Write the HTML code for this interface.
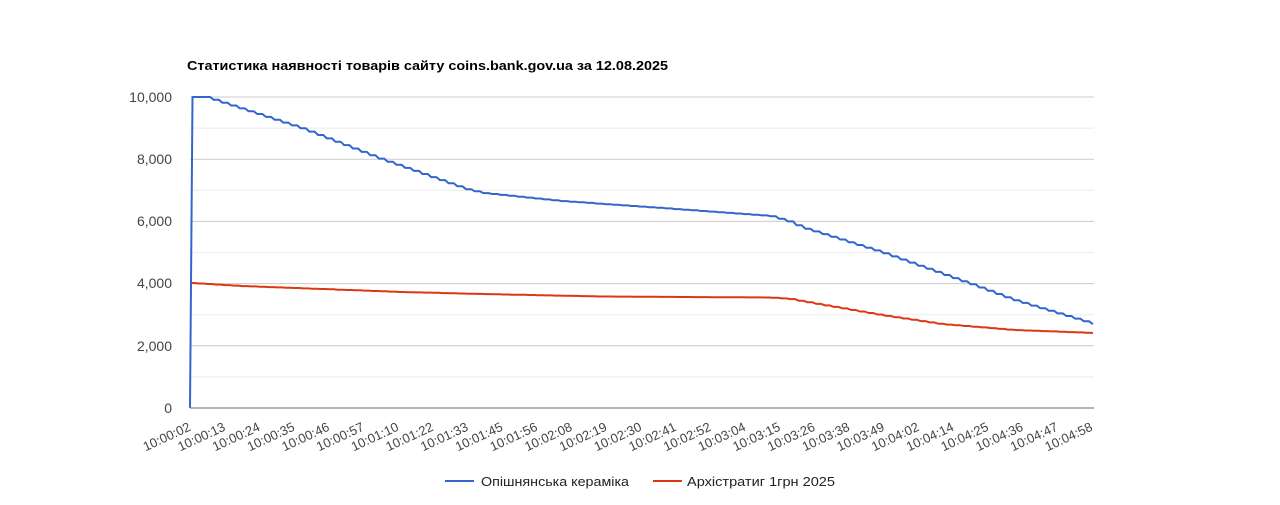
<!DOCTYPE html>
<html>
<head>
<meta charset="utf-8">
<style>
html,body{margin:0;padding:0;background:#fff;}
svg{display:block;}
text{font-family:"Liberation Sans",Arial,sans-serif;}
</style>
</head>
<body>
<svg width="1280" height="505" viewBox="0 0 1280 505" xmlns="http://www.w3.org/2000/svg">
<rect x="0" y="0" width="1280" height="505" fill="#ffffff"/>
<text x="187" y="70" font-size="13" font-weight="bold" fill="#000" textLength="481" lengthAdjust="spacingAndGlyphs">Статистика наявності товарів сайту coins.bank.gov.ua за 12.08.2025</text>

<!-- minor gridlines -->
<g stroke="#ebebeb" stroke-width="1">
<line x1="190" y1="128.1" x2="1094" y2="128.1"/>
<line x1="190" y1="190.3" x2="1094" y2="190.3"/>
<line x1="190" y1="252.5" x2="1094" y2="252.5"/>
<line x1="190" y1="314.7" x2="1094" y2="314.7"/>
<line x1="190" y1="376.9" x2="1094" y2="376.9"/>
</g>
<!-- major gridlines -->
<g stroke="#cccccc" stroke-width="1">
<line x1="190" y1="97" x2="1094" y2="97"/>
<line x1="190" y1="159.2" x2="1094" y2="159.2"/>
<line x1="190" y1="221.4" x2="1094" y2="221.4"/>
<line x1="190" y1="283.6" x2="1094" y2="283.6"/>
<line x1="190" y1="345.8" x2="1094" y2="345.8"/>
</g>

<!-- y labels -->
<g font-size="14" fill="#444" text-anchor="end">
<text x="172" y="102">10,000</text>
<text x="172" y="164">8,000</text>
<text x="172" y="226">6,000</text>
<text x="172" y="288">4,000</text>
<text x="172" y="351">2,000</text>
<text x="172" y="413">0</text>
</g>

<!-- series -->
<path id="red" d="M190,283 L240,286 L320,289 L400,292 L480,294 L600,296.5 L770,297.5 L790,299 L800,301 L880,315 L940,324 L1013,330 L1093,333" fill="none" stroke="#dc3912" stroke-width="2" stroke-linejoin="round"/>
<path id="blue" d="M190,408 L192.5,97 L205,97 L300,128 L380,159 L465,189 L482,193 L560,201 L660,208 L770,216 L790,222 L800,227 L880,252 L967,283 L1013,300 L1093,324" fill="none" stroke="#3366cc" stroke-width="2" stroke-linejoin="round"/>

<!-- axis baseline -->
<line x1="190" y1="408" x2="1094" y2="408" stroke="#888" stroke-width="1.2"/>

<!-- x labels -->
<g font-size="13" fill="#444" text-anchor="end">
<text transform="translate(191.5,430) rotate(-25)">10:00:02</text>
<text transform="translate(226.2,430) rotate(-25)">10:00:13</text>
<text transform="translate(260.9,430) rotate(-25)">10:00:24</text>
<text transform="translate(295.6,430) rotate(-25)">10:00:35</text>
<text transform="translate(330.3,430) rotate(-25)">10:00:46</text>
<text transform="translate(364.9,430) rotate(-25)">10:00:57</text>
<text transform="translate(399.6,430) rotate(-25)">10:01:10</text>
<text transform="translate(434.3,430) rotate(-25)">10:01:22</text>
<text transform="translate(469.0,430) rotate(-25)">10:01:33</text>
<text transform="translate(503.7,430) rotate(-25)">10:01:45</text>
<text transform="translate(538.4,430) rotate(-25)">10:01:56</text>
<text transform="translate(573.1,430) rotate(-25)">10:02:08</text>
<text transform="translate(607.8,430) rotate(-25)">10:02:19</text>
<text transform="translate(642.5,430) rotate(-25)">10:02:30</text>
<text transform="translate(677.2,430) rotate(-25)">10:02:41</text>
<text transform="translate(711.9,430) rotate(-25)">10:02:52</text>
<text transform="translate(746.5,430) rotate(-25)">10:03:04</text>
<text transform="translate(781.2,430) rotate(-25)">10:03:15</text>
<text transform="translate(815.9,430) rotate(-25)">10:03:26</text>
<text transform="translate(850.6,430) rotate(-25)">10:03:38</text>
<text transform="translate(885.3,430) rotate(-25)">10:03:49</text>
<text transform="translate(920.0,430) rotate(-25)">10:04:02</text>
<text transform="translate(954.7,430) rotate(-25)">10:04:14</text>
<text transform="translate(989.4,430) rotate(-25)">10:04:25</text>
<text transform="translate(1024.1,430) rotate(-25)">10:04:36</text>
<text transform="translate(1058.8,430) rotate(-25)">10:04:47</text>
<text transform="translate(1093.4,430) rotate(-25)">10:04:58</text>
</g>

<!-- legend -->
<line x1="445" y1="481" x2="474" y2="481" stroke="#3366cc" stroke-width="2"/>
<text x="481" y="486" font-size="13" fill="#222" textLength="148" lengthAdjust="spacingAndGlyphs">Опішнянська кераміка</text>
<line x1="653" y1="481" x2="682" y2="481" stroke="#dc3912" stroke-width="2"/>
<text x="687" y="486" font-size="13" fill="#222" textLength="148" lengthAdjust="spacingAndGlyphs">Архістратиг 1грн 2025</text>
</svg>
<script>
(function(){
  function mk(pts){
    return function(x){
      for(var i=0;i<pts.length-1;i++){
        var a=pts[i],b=pts[i+1];
        if(x>=a[0]&&x<=b[0]){var t=(x-a[0])/(b[0]-a[0]||1);return a[1]+t*(b[1]-a[1]);}
      }
      return pts[pts.length-1][1];
    };
  }
  function build(f,x0,x1,s,run,prefix){
    var x=x0,y=f(x);
    var d=prefix+" L"+x.toFixed(1)+","+y.toFixed(1);
    while(x<x1-0.01){
      var nx=Math.min(x+s,x1),ny=f(nx);
      var r=Math.min(run,(nx-x)/2);
      d+=" L"+(nx-r).toFixed(1)+","+y.toFixed(1)+" L"+nx.toFixed(1)+","+ny.toFixed(1);
      x=nx;y=ny;
    }
    return d;
  }
  var blue=[[205,97],[300,128],[380,159],[465,189],[482,193],[560,201],[660,208],[770,216],[790,222],[800,227],[880,252],[967,283],[1013,300],[1093,324]];
  var red=[[190,283],[240,286],[320,289],[400,292],[480,294],[600,296.5],[770,297.5],[790,299],[800,301],[880,315],[940,324],[1013,330],[1093,333]];
  document.getElementById("blue").setAttribute("d",build(mk(blue),205,1093,8.7,3.5,"M190,408 L192.5,97"));
  document.getElementById("red").setAttribute("d",build(mk(red),190,1093,8.7,4,"M190,283"));
})();
</script>
</body>
</html>
